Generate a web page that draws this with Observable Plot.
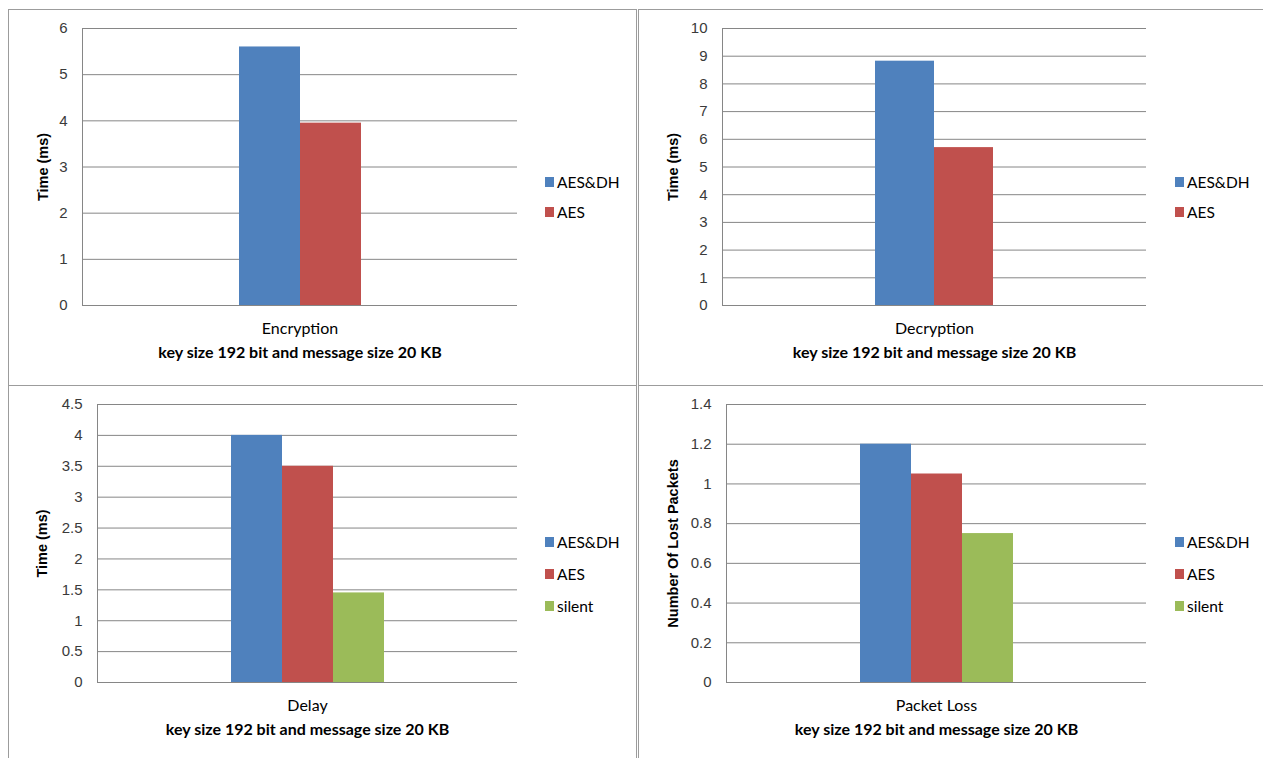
<!DOCTYPE html>
<html>
<head>
<meta charset="utf-8">
<script src="https://cdn.jsdelivr.net/npm/d3@7"></script>
<script src="https://cdn.jsdelivr.net/npm/@observablehq/plot@0.6"></script>
<style>
  html, body { margin: 0; padding: 0; background: #fff; }
  #page { position: relative; width: 1263px; height: 758px; overflow: hidden; background: #fff; }
  .box { position: absolute; box-sizing: border-box; border: 1px solid #9c9c9c; }
  .plot { position: absolute; }
  .legend-item { position: absolute; height: 20px; display: flex; align-items: center; white-space: nowrap;
                 font-family: Lato, "Open Sans", sans-serif; font-size: 15.5px; color: #000; }
  .swatch { width: 9px; height: 10px; margin-right: 3px; }
</style>
</head>
<body>
<div id="page"></div>
<script>
// ---------- data ----------
const seriesNames = ["AES&DH", "AES", "silent"];
const seriesColors = ["#4F81BD", "#C0504D", "#9BBB59"];
const categories = ["Encryption", "Decryption", "Delay", "Packet Loss"];
const encryptionTimes = [5.6, 3.95];
const decryptionTimes = [8.82, 5.7];
const delayTimes = [4.0, 3.5, 1.45];
const packetLossCounts = [1.2, 1.05, 0.75];
const yTitles = ["Time (ms)", "Time (ms)", "Time (ms)", "Number Of Lost Packets"];
const encryptionTicks = [0, 1, 2, 3, 4, 5, 6];
const decryptionTicks = [0, 1, 2, 3, 4, 5, 6, 7, 8, 9, 10];
const delayTicks = [0, 0.5, 1, 1.5, 2, 2.5, 3, 3.5, 4, 4.5];
const packetLossTicks = [0, 0.2, 0.4, 0.6, 0.8, 1, 1.2, 1.4];
const footnote = "key size 192 bit and message size 20 KB";

// ---------- layout (page pixel coordinates) ----------
const panels = [
  {values: encryptionTimes, ticks: encryptionTicks, svg: [9, 10], frame: [82, 517, 28, 305], titleOffset: 39, legend: [545, [182, 212]]},
  {values: decryptionTimes, ticks: decryptionTicks, svg: [640, 10], frame: [722, 1146, 28, 305], titleOffset: 49, legend: [1175, [182, 212]]},
  {values: delayTimes, ticks: delayTicks, svg: [9, 386], frame: [97, 517, 404, 682], titleOffset: 55, legend: [545, [542, 574, 606]]},
  {values: packetLossCounts, ticks: packetLossTicks, svg: [640, 386], frame: [726, 1146, 404, 682], titleOffset: 53, legend: [1175, [542, 574, 606]]}
];

const page = document.getElementById("page");

// panel borders
[[8, 9, 629, 377], [638, 9, 640, 377], [8, 385, 629, 390], [638, 385, 640, 390]].forEach(([l, t, w, h]) => {
  const b = document.createElement("div");
  b.className = "box";
  Object.assign(b.style, {left: l + "px", top: t + "px", width: w + "px", height: h + "px"});
  page.appendChild(b);
});

const gridColor = "#868686";
const W = 620, H = 370;

panels.forEach((p, i) => {
  const n = p.values.length;
  const names = seriesNames.slice(0, n);
  const rows = names.map((s, j) => ({series: s, value: p.values[j]}));
  const [sx, sy] = p.svg;
  const [fl, fr, ft, fb] = p.frame;

  const leftAxisLine = (index, scales, values, dim) =>
    d3.create("svg:line")
      .attr("x1", dim.marginLeft + 0.5).attr("x2", dim.marginLeft + 0.5)
      .attr("y1", dim.marginTop).attr("y2", dim.height - dim.marginBottom)
      .attr("stroke", gridColor)
      .node();

  const chart = Plot.plot({
    width: W,
    height: H,
    marginLeft: fl - sx,
    marginRight: W - (fr - sx),
    marginTop: ft - sy,
    marginBottom: H - (fb - sy),
    style: {background: "transparent", overflow: "visible"},
    x: {type: "band", domain: names, paddingInner: 0, paddingOuter: 2.55, axis: null},
    y: {domain: [p.ticks[0], p.ticks[p.ticks.length - 1]]},
    color: {domain: seriesNames, range: seriesColors},
    marks: [
      Plot.gridY(p.ticks, {stroke: gridColor, strokeOpacity: 1}),
      leftAxisLine,
      Plot.axisY(p.ticks, {
        tickSize: 0, tickPadding: 15, label: null, tickFormat: d => String(d),
        fontSize: 15, fontFamily: "'Liberation Sans', Arial, sans-serif", fill: "#3a3a3a"
      }),
      Plot.barY(rows, {x: "series", y: "value", fill: "series"}),
      Plot.text([categories[i]], {
        text: d => d, frameAnchor: "bottom", lineAnchor: "top", dy: 17,
        fontFamily: "Lato, 'Open Sans', sans-serif", fontSize: 16, fill: "#000"
      }),
      Plot.text([footnote], {
        text: d => d, frameAnchor: "bottom", lineAnchor: "top", dy: 41,
        fontFamily: "Lato, 'Open Sans', sans-serif", fontSize: 16, fontWeight: "bold", fill: "#000"
      }),
      Plot.text([yTitles[i]], {
        text: d => d, frameAnchor: "left", rotate: -90, dx: -p.titleOffset,
        textAnchor: "middle", lineAnchor: "middle",
        fontFamily: "'Liberation Sans', Arial, sans-serif", fontSize: 14.5, fontWeight: "bold", fill: "#000"
      })
    ]
  });
  chart.classList.add("plot");
  chart.style.left = sx + "px";
  chart.style.top = sy + "px";
  page.appendChild(chart);

  // legend
  const [lx, lys] = p.legend;
  names.forEach((s, j) => {
    const item = document.createElement("div");
    item.className = "legend-item";
    item.style.left = lx + "px";
    item.style.top = (lys[j] - 10) + "px";
    const sw = document.createElement("span");
    sw.className = "swatch";
    sw.style.background = seriesColors[j];
    const tx = document.createElement("span");
    tx.textContent = s;
    item.appendChild(sw);
    item.appendChild(tx);
    page.appendChild(item);
  });
});
</script>
</body>
</html>
